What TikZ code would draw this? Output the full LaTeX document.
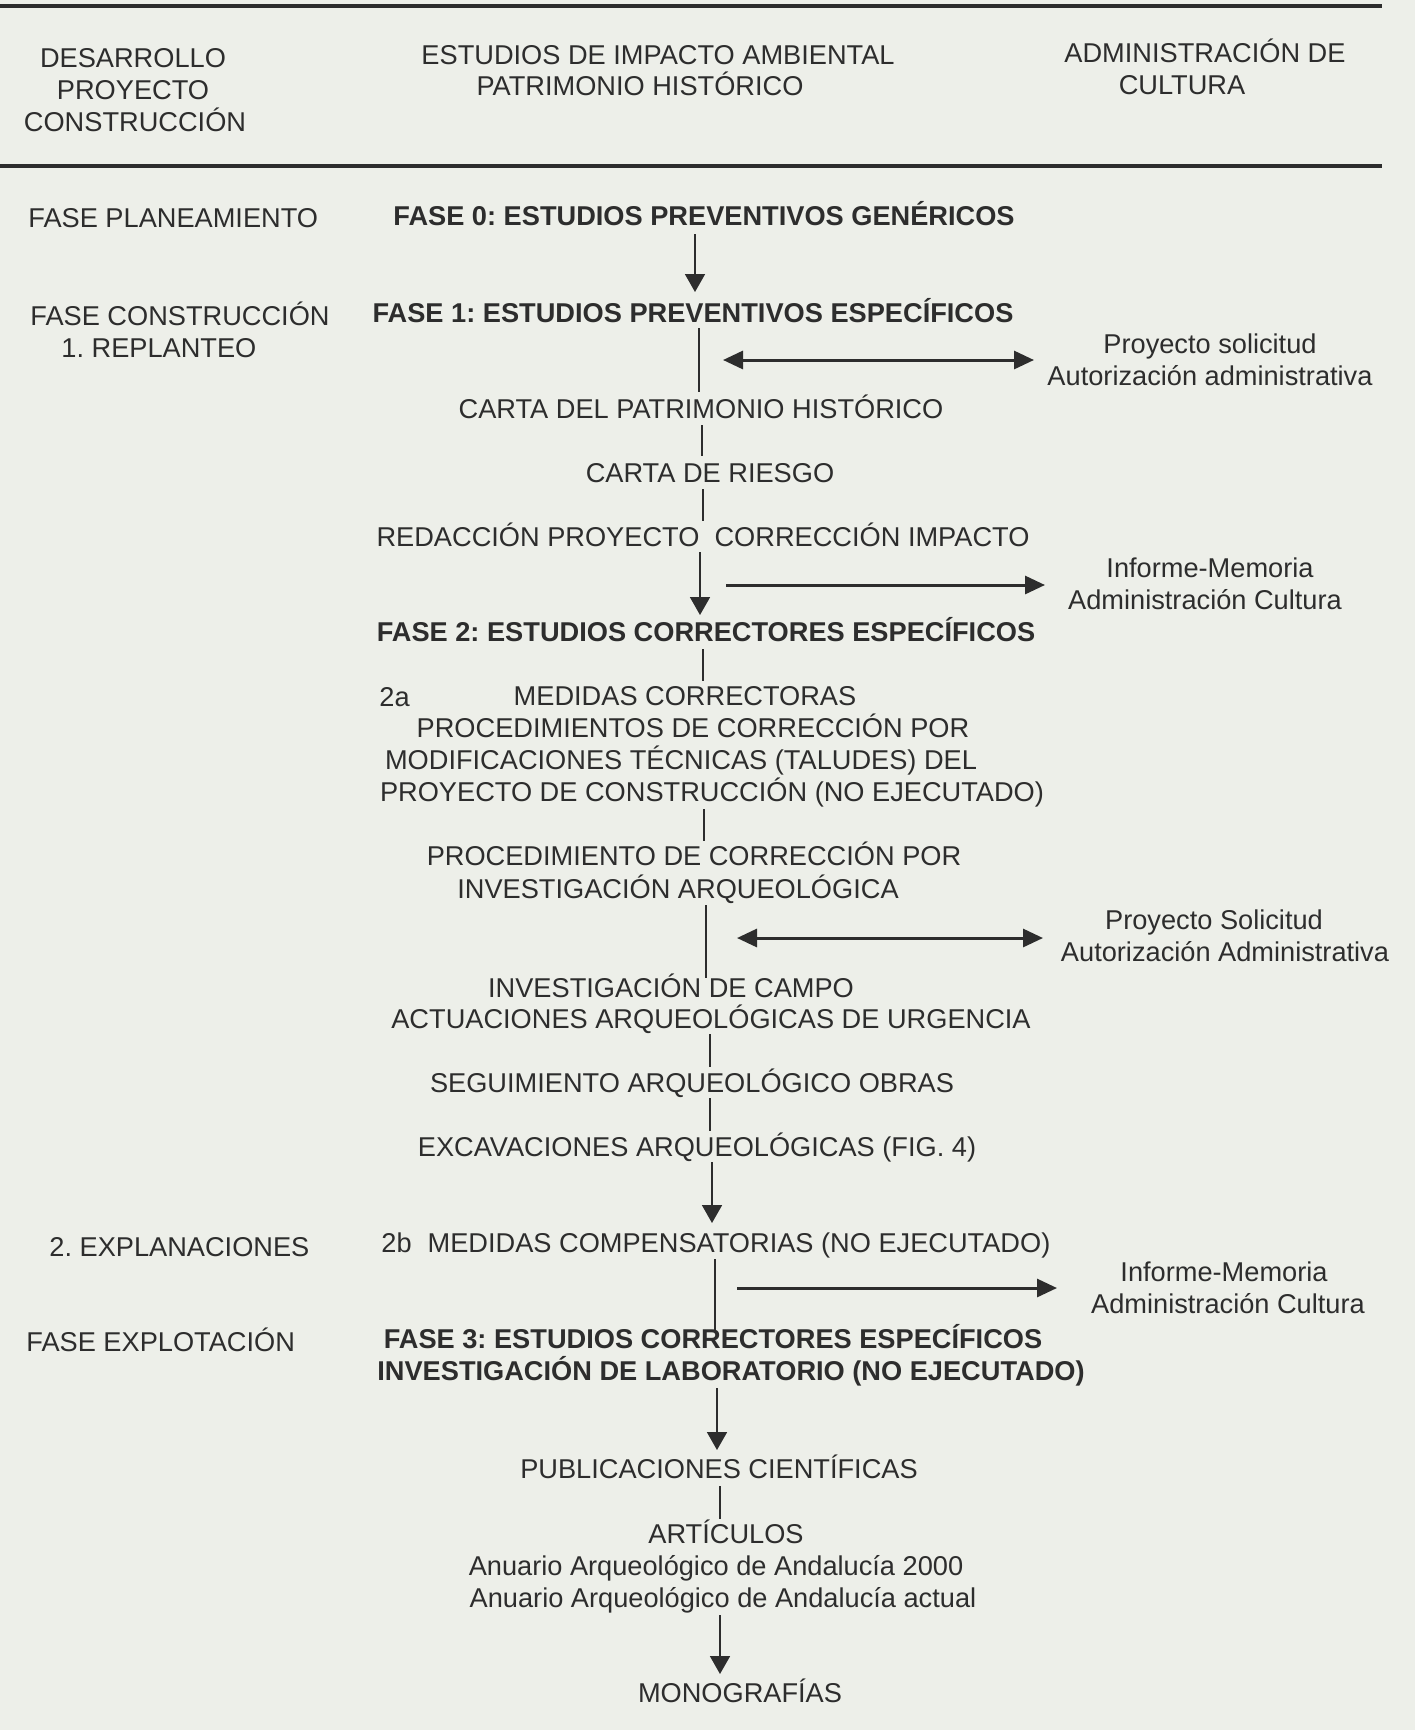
\documentclass[tikz,border=0pt]{standalone}
\usepackage{fontspec}
\setmainfont{Liberation Sans}
\usetikzlibrary{arrows.meta}
\definecolor{paper}{RGB}{237,239,233}
\definecolor{ink}{RGB}{45,45,45}
\frenchspacing
\begin{document}
\begin{tikzpicture}[x=0.5pt,y=-0.5pt,
  txt/.style={anchor=base,inner sep=0pt,text=ink,font=\fontsize{13.6}{16}\selectfont},
  btxt/.style={txt,font=\fontsize{13.6}{16}\selectfont\bfseries},
  ltxt/.style={txt,anchor=base west},
  rule/.style={draw=ink,line width=2pt},
  vline/.style={draw=ink,line width=0.9pt},
  varr/.style={vline,-{Triangle[length=9pt,width=10pt]}},
  harr/.style={draw=ink,line width=1.5pt,-{Triangle[length=10pt,width=9pt]}},
  darr/.style={draw=ink,line width=1.5pt,{Triangle[length=10pt,width=9pt]}-{Triangle[length=10pt,width=9pt]}}]
\fill[paper] (0,0) rectangle (1415,1730);
\useasboundingbox (0,0) rectangle (1415,1730);
% rules
\coordinate (r1a) at (0,6); \coordinate (r1b) at (1382,6);
\coordinate (r2a) at (0,166); \coordinate (r2b) at (1382,166);
\draw[rule] (r1a) -- (r1b);
\draw[rule] (r2a) -- (r2b);
% header
\node[txt] (h1a) at (133,67) {DESARROLLO};
\node[txt] (h1b) at (133,99) {PROYECTO};
\node[txt] (h1c) at (135,131) {CONSTRUCCIÓN};
\node[txt] (h2a) at (658,64) {ESTUDIOS DE IMPACTO AMBIENTAL};
\node[txt] (h2b) at (640,95) {PATRIMONIO HISTÓRICO};
\node[txt] (h3a) at (1205,62) {ADMINISTRACIÓN DE};
\node[txt] (h3b) at (1182,94) {CULTURA};
% left column
\node[ltxt] (lplan) at (28,227) {FASE PLANEAMIENTO};
\node[ltxt] (lcons) at (30,325) {FASE CONSTRUCCIÓN};
\node[ltxt] (lrepl) at (61,357) {1. REPLANTEO};
\node[ltxt] (lexpl) at (49,1256) {2. EXPLANACIONES};
\node[ltxt] (lexpo) at (26,1351) {FASE EXPLOTACIÓN};
% centre column
\node[btxt] (f0) at (704,225) {FASE 0: ESTUDIOS PREVENTIVOS GENÉRICOS};
\node[btxt] (f1) at (693,322) {FASE 1: ESTUDIOS PREVENTIVOS ESPECÍFICOS};
\node[txt] (carta) at (701,418) {CARTA DEL PATRIMONIO HISTÓRICO};
\node[txt] (riesgo) at (710,482) {CARTA DE RIESGO};
\node[txt] (redac) at (703,546) {REDACCIÓN PROYECTO\ \ CORRECCIÓN IMPACTO};
\node[btxt] (f2) at (706,641) {FASE 2: ESTUDIOS CORRECTORES ESPECÍFICOS};
\node[ltxt] (l2a) at (379,706) {2a};
\node[txt] (m1) at (685,705) {MEDIDAS CORRECTORAS};
\node[txt] (m2) at (693,737) {PROCEDIMIENTOS DE CORRECCIÓN POR};
\node[txt] (m3) at (681,769) {MODIFICACIONES TÉCNICAS (TALUDES) DEL};
\node[txt] (m4) at (712,801) {PROYECTO DE CONSTRUCCIÓN (NO EJECUTADO)};
\node[txt] (p1) at (694,865) {PROCEDIMIENTO DE CORRECCIÓN POR};
\node[txt] (p2) at (678,898) {INVESTIGACIÓN ARQUEOLÓGICA};
\node[txt] (i1) at (671,997) {INVESTIGACIÓN DE CAMPO};
\node[txt] (i2) at (711,1028) {ACTUACIONES ARQUEOLÓGICAS DE URGENCIA};
\node[txt] (seg) at (692,1092) {SEGUIMIENTO ARQUEOLÓGICO OBRAS};
\node[txt] (exc) at (697,1156) {EXCAVACIONES ARQUEOLÓGICAS (FIG. 4)};
\node[ltxt] (l2b) at (381,1252) {2b};
\node[txt] (comp) at (739,1252) {MEDIDAS COMPENSATORIAS (NO EJECUTADO)};
\node[btxt] (f3) at (713,1348) {FASE 3: ESTUDIOS CORRECTORES ESPECÍFICOS};
\node[btxt] (f3b) at (731,1380) {INVESTIGACIÓN DE LABORATORIO (NO EJECUTADO)};
\node[txt] (pub) at (719,1478) {PUBLICACIONES CIENTÍFICAS};
\node[txt] (art) at (726,1543) {ARTÍCULOS};
\node[txt] (an1) at (716,1575) {Anuario Arqueológico de Andalucía 2000};
\node[txt] (an2) at (723,1607) {Anuario Arqueológico de Andalucía actual};
\node[txt] (mono) at (740,1702) {MONOGRAFÍAS};
% right column
\node[txt] (r1) at (1210,353) {Proyecto solicitud};
\node[txt] (r1b) at (1210,385) {Autorización administrativa};
\node[txt] (r2) at (1210,577) {Informe-Memoria};
\node[txt] (r2b) at (1205,609) {Administración Cultura};
\node[txt] (r3) at (1214,929) {Proyecto Solicitud};
\node[txt] (r3b) at (1225,961) {Autorización Administrativa};
\node[txt] (r4) at (1224,1281) {Informe-Memoria};
\node[txt] (r4b) at (1228,1313) {Administración Cultura};
% connector end points
\coordinate (a0s) at (695,234); \coordinate (a0e) at (695,292);
\coordinate (v1s) at (699,328); \coordinate (v1e) at (699,392);
\coordinate (d1s) at (723,360); \coordinate (d1e) at (1034,360);
\coordinate (v2s) at (702,425); \coordinate (v2e) at (702,456);
\coordinate (v3s) at (703,489); \coordinate (v3e) at (703,521);
\coordinate (a1s) at (700,552); \coordinate (a1e) at (700,615);
\coordinate (h1s) at (726,585); \coordinate (h1e) at (1045,585);
\coordinate (v4s) at (703,649); \coordinate (v4e) at (703,681);
\coordinate (v5s) at (704,809); \coordinate (v5e) at (704,841);
\coordinate (v6s) at (706,905); \coordinate (v6e) at (706,978);
\coordinate (d2s) at (737,938); \coordinate (d2e) at (1043,938);
\coordinate (v7s) at (710,1034); \coordinate (v7e) at (710,1067);
\coordinate (v8s) at (710,1098); \coordinate (v8e) at (710,1131);
\coordinate (a2s) at (712,1162); \coordinate (a2e) at (712,1223);
\coordinate (v9s) at (715,1259); \coordinate (v9e) at (715,1330);
\coordinate (h2s) at (737,1288); \coordinate (h2e) at (1057,1288);
\coordinate (a3s) at (717,1388); \coordinate (a3e) at (717,1450);
\coordinate (v10s) at (720,1486); \coordinate (v10e) at (720,1519);
\coordinate (a4s) at (720,1615); \coordinate (a4e) at (720,1674);
% connectors
\draw[varr] (a0s) -- (a0e);
\draw[vline] (v1s) -- (v1e);
\draw[darr] (d1s) -- (d1e);
\draw[vline] (v2s) -- (v2e);
\draw[vline] (v3s) -- (v3e);
\draw[varr] (a1s) -- (a1e);
\draw[harr] (h1s) -- (h1e);
\draw[vline] (v4s) -- (v4e);
\draw[vline] (v5s) -- (v5e);
\draw[vline] (v6s) -- (v6e);
\draw[darr] (d2s) -- (d2e);
\draw[vline] (v7s) -- (v7e);
\draw[vline] (v8s) -- (v8e);
\draw[varr] (a2s) -- (a2e);
\draw[vline] (v9s) -- (v9e);
\draw[harr] (h2s) -- (h2e);
\draw[varr] (a3s) -- (a3e);
\draw[vline] (v10s) -- (v10e);
\draw[varr] (a4s) -- (a4e);
\end{tikzpicture}
\end{document}
